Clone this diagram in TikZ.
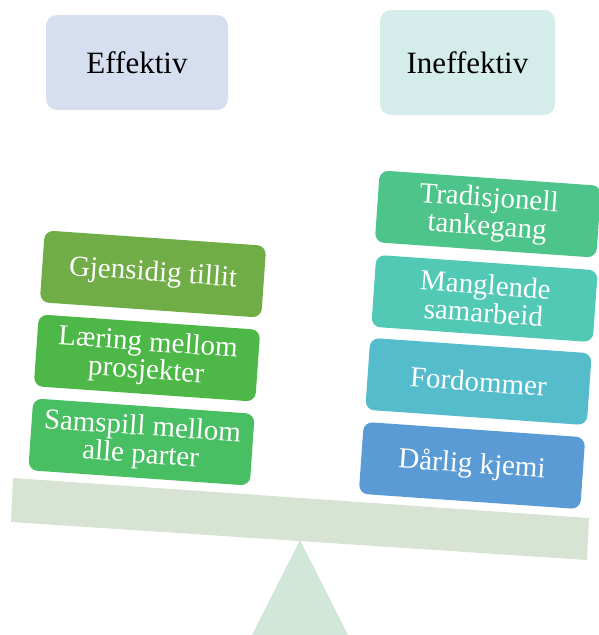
\documentclass[tikz,border=0pt]{standalone}
\usepackage{fontspec}
\setmainfont{Liberation Serif}
\definecolor{hdrA}{HTML}{D5DFEF}
\definecolor{hdrB}{HTML}{D4EDEA}
\definecolor{cA}{HTML}{70AD47}
\definecolor{cB}{HTML}{4DB848}
\definecolor{cC}{HTML}{48BF63}
\definecolor{cD}{HTML}{4DC48A}
\definecolor{cE}{HTML}{52C9B5}
\definecolor{cF}{HTML}{54BCCB}
\definecolor{cG}{HTML}{5B9BD5}
\definecolor{beamc}{HTML}{D7E4D3}
\definecolor{fulc}{HTML}{D0E7DA}
\tikzset{
  hdr/.style={rounded corners=11pt, inner sep=0pt, font=\fontsize{31}{31}\selectfont, text=black},
  item/.style={rounded corners=9pt, minimum width=222pt, minimum height=72pt, inner sep=0pt,
    align=center, rotate=-4, text=white, font=\fontsize{29}{28}\selectfont},
}
\begin{document}
\begin{tikzpicture}[x=1pt,y=-1pt]
\useasboundingbox (0,0) rectangle (598,635);
% fulcrum and beam
\fill[fulc] (300,540) -- (252,635) -- (348,635) -- cycle;
\fill[beamc] (13,478) -- (589,518) -- (587,560) -- (11,522) -- cycle;
% headers
\node[hdr, fill=hdrA, minimum width=182pt, minimum height=95pt] (eff) at (137,62.5) {Effektiv};
\node[hdr, fill=hdrB, minimum width=175pt, minimum height=105pt] (ineff) at (467.5,62.5) {Ineffektiv};
% left stack
\node[item, fill=cA] (l1) at (153,274) {Gjensidig tillit};
\node[item, fill=cB] (l2) at (147,358) {Læring mellom\\prosjekter};
\node[item, fill=cC] (l3) at (141.5,442) {Samspill mellom\\alle parter};
% right stack
\node[item, fill=cD] (r1) at (488,214) {Tradisjonell\\tankegang};
\node[item, fill=cE] (r2) at (484.5,298.5) {Manglende\\samarbeid};
\node[item, fill=cF] (r3) at (478.5,381.5) {Fordommer};
\node[item, fill=cG] (r4) at (472,465.5) {Dårlig kjemi};
\end{tikzpicture}
\end{document}
